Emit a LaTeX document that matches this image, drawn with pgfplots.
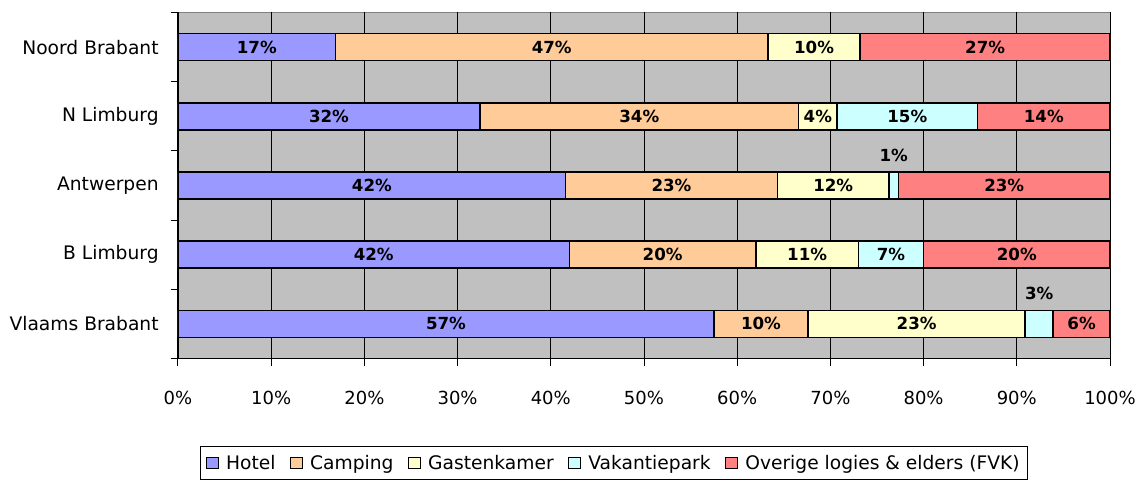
\documentclass[border=0pt]{standalone}
\usepackage{fontspec}
\setmainfont{DejaVu Sans}
\usepackage{pgfplots}
\usepackage{pgfplotstable}
\pgfplotsset{compat=1.18}

\definecolor{hotel}{HTML}{9999FF}
\definecolor{camping}{HTML}{FFCC99}
\definecolor{gasten}{HTML}{FFFFCC}
\definecolor{vakpark}{HTML}{CCFFFF}
\definecolor{overig}{HTML}{FF8080}
\definecolor{plotbg}{HTML}{C0C0C0}

% share per region in percent; l* = labels as printed
\pgfplotstableread{
y hot  camp gast vak  ove  lhot lcamp lgast lvak love dvak
0 16.9 46.4 9.9  0.0  26.8 17\% 47\% 10\% {}   27\% 0
1 32.4 34.2 4.1  15.1 14.2 32\% 34\% 4\%  15\% 14\% 0
2 41.6 22.7 12.0 1.0  22.7 42\% 23\% 12\% 1\%  23\% 22.5
3 42.0 20.0 11.0 7.0  20.0 42\% 20\% 11\% 7\%  20\% 0
4 57.5 10.1 23.3 3.0  6.1  57\% 10\% 23\% 3\%  6\%  22.5
}\shares

\pgfplotsset{
  seg/.style={
    fill=#1, draw=black, line width=1.1pt,
    point meta=explicit symbolic,
    nodes near coords={\pgfplotspointmeta},
    every node near coord/.append style={anchor=center,
      font=\bfseries\fontsize{12.5}{14}\selectfont, text=black},
  },
}

\begin{document}
\begin{tikzpicture}
\begin{axis}[
  name=ax,
  scale only axis, width=699pt, height=259.5pt,
  xbar stacked, bar width=20.25pt,
  xmin=0, xmax=100, ymin=-0.5, ymax=4.5, y dir=reverse,
  axis background/.style={fill=plotbg, draw=gray},
  axis lines*=left, axis line style={line width=0.8pt},
  tick align=outside, major tick length=5.5pt,
  tick style={black, line width=0.75pt},
  xtick={0,10,...,100},
  xticklabel={\pgfmathprintnumber{\tick}\%},
  /pgf/number format/assume math mode=true,
  xticklabel style={anchor=center, yshift=-24pt, font=\fontsize{13.5}{16}\selectfont},
  xmajorgrids, grid style={black, line width=0.75pt},
  ytick={-0.5,0.5,...,4.5}, yticklabel=\empty,
  extra y ticks={0,1,2,3,4},
  extra y tick labels={Noord Brabant, N Limburg, Antwerpen, B Limburg, Vlaams Brabant},
  extra y tick style={major tick length=0pt,
    yticklabel style={anchor=east, xshift=-11pt, font=\fontsize{14}{16}\selectfont}},
  legend style={at={(0.468,-0.302)}, anchor=center, legend columns=-1,
    draw=black, line width=0.6pt, font=\fontsize{14}{16}\selectfont,
    inner xsep=4pt, inner ysep=4.5pt,
    /tikz/every odd column/.append style={column sep=3.5pt},
    /tikz/every even column/.append style={column sep=9pt}},
  legend image code/.code={\draw[#1, line width=0.7pt] (0pt,-4.4pt) rectangle (8.8pt,4.4pt);},
]
\addplot[seg=hotel] table[x=hot, y=y, meta=lhot] {\shares};
\addplot[seg=camping] table[x=camp, y=y, meta=lcamp] {\shares};
\addplot[seg=gasten] table[x=gast, y=y, meta=lgast] {\shares};
\addplot[seg=vakpark,
  visualization depends on={\thisrow{dvak} \as \dv},
  every node near coord/.append style={yshift=\dv pt}] table[x=vak, y=y, meta=lvak] {\shares};
\addplot[seg=overig] table[x=ove, y=y, meta=love] {\shares};
\legend{Hotel, Camping, Gastenkamer, Vakantiepark, Overige logies \& elders (FVK)}
\end{axis}
\pgfresetboundingbox
\useasboundingbox (ax.south west) ++(-133.5pt,-91.9pt) rectangle ++(852pt,360.75pt);
\end{tikzpicture}
\end{document}
